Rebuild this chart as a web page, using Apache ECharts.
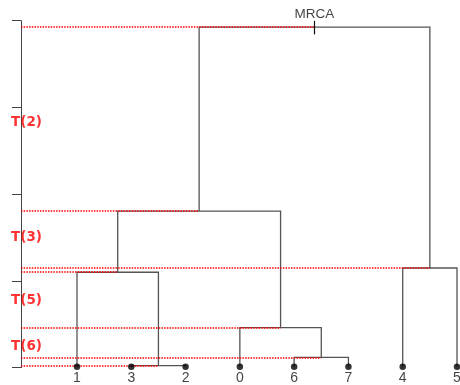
<!DOCTYPE html>
<html>
<head>
<meta charset="utf-8">
<script src="https://cdn.jsdelivr.net/npm/echarts@6/dist/echarts.min.js"></script>
<style>
html,body{margin:0;padding:0;background:#fff;}
#chart{width:460px;height:385px;}
</style>
</head>
<body>
<div id="chart"></div>
<script>
// Tips (leaves), left to right
const tipLabels = ['1', '3', '2', '0', '6', '7', '4', '5'];
const tipHeight = 0.01;
// Internal nodes (index 8..14): children and coalescence heights
const nodeLeft   = [1, 4, 3, 0, 6, 11, 13];
const nodeRight  = [2, 5, 9, 8, 7, 10, 12];
const nodeHeight = [0.023, 0.120, 0.461, 1.100, 1.149, 1.804, 3.924];
// Interval labels
const intervalLabels = ['T(2)', 'T(3)', 'T(5)', 'T(6)'];
const intervalLabelY = [2.82, 1.50, 0.78, 0.24];
const rootLabel = 'MRCA';

// Build node coordinates
const nTips = tipLabels.length;
const X = [], H = [];
for (let i = 0; i < nTips; i++) { X.push(i); H.push(tipHeight); }
for (let k = 0; k < nodeLeft.length; k++) {
  X.push((X[nodeLeft[k]] + X[nodeRight[k]]) / 2);
  H.push(nodeHeight[k]);
}
const xMin = -1.0315, xMax = 7;

const treeSegs = [], redSegs = [];
for (let k = 0; k < nodeLeft.length; k++) {
  const l = nodeLeft[k], r = nodeRight[k], h = nodeHeight[k], id = nTips + k;
  treeSegs.push({coords: [[X[l], H[l]], [X[l], h], [X[r], h], [X[r], H[r]]]});
  redSegs.push({coords: [[xMin, h], [X[id], h]]});
}
const rootId = nTips + nodeLeft.length - 1;
const pxPerUnit = (385 - 17.3 - 20.6) / 4;
const tickHalf = 6.3 / pxPerUnit;
const mrcaSeg = [{coords: [[X[rootId], H[rootId] + tickHalf], [X[rootId], H[rootId] - tickHalf - 0.01]]}];

const chart = echarts.init(document.getElementById('chart'), null, {renderer: 'canvas'});
chart.setOption({
  animation: false,
  backgroundColor: '#fff',
  grid: {left: 21, right: 3, top: 20.6, bottom: 17.3},
  xAxis: {type: 'value', min: xMin, max: xMax, show: false},
  yAxis: {
    type: 'value', min: 0, max: 4, interval: 1,
    axisLine: {show: true, onZero: false, lineStyle: {color: '#444', width: 1}},
    axisTick: {show: true, length: 9, lineStyle: {color: '#444', width: 1}},
    axisLabel: {show: false},
    splitLine: {show: false}
  },
  series: [
    {
      type: 'lines', coordinateSystem: 'cartesian2d', polyline: true, clip: false,
      lineStyle: {color: '#555', width: 1.3, opacity: 1},
      data: treeSegs, z: 2, silent: true
    },
    {
      type: 'lines', coordinateSystem: 'cartesian2d', polyline: false, clip: false,
      lineStyle: {color: '#ff0000', width: 1.7, type: [1.5, 1.2], opacity: 1},
      data: redSegs, z: 3, silent: true
    },
    {
      type: 'lines', coordinateSystem: 'cartesian2d', clip: false,
      lineStyle: {color: '#111', width: 1.2, opacity: 1},
      data: mrcaSeg, z: 4, silent: true
    },
    {
      type: 'scatter', clip: false, symbol: 'circle', symbolSize: 0,
      data: [[X[rootId], H[rootId] + tickHalf]],
      label: {show: true, position: 'top', distance: 0, formatter: rootLabel,
              color: '#111', fontSize: 13.5, fontFamily: 'Liberation Sans'},
      z: 5
    },
    {
      type: 'scatter', clip: false, symbol: 'circle', symbolSize: 6.5,
      itemStyle: {color: '#000'},
      data: tipLabels.map((t, i) => ({value: [X[i], H[i]], name: t})),
      label: {show: true, position: 'bottom', distance: 1, formatter: p => p.name,
              color: '#111', fontSize: 14, fontFamily: 'Liberation Sans'},
      z: 5
    },
    {
      type: 'scatter', clip: false, symbolSize: 0,
      data: intervalLabels.map((t, i) => ({value: [-0.93, intervalLabelY[i]], name: t})),
      label: {show: true, position: 'inside', formatter: p => p.name,
              color: '#ff0000', fontSize: 13.5, fontWeight: 'bold', fontFamily: 'DejaVu Sans'},
      z: 6
    }
  ]
});
</script>
</body>
</html>
